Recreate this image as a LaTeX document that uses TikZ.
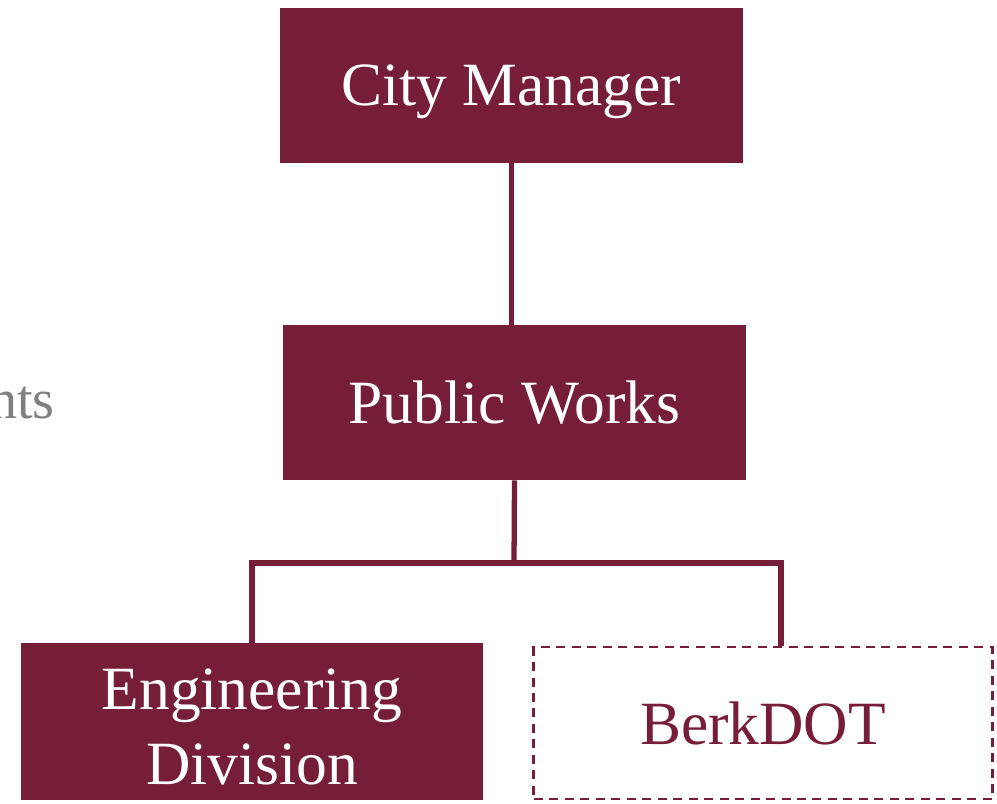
\documentclass[tikz,border=0pt]{standalone}
\usepackage{fontspec}
\setmainfont{Liberation Serif}
\usepackage{xcolor}
\usetikzlibrary{positioning}

\definecolor{maroon}{HTML}{761D37}
\definecolor{softgrey}{HTML}{808080}

\tikzset{
    orgbox/.style={fill=maroon, text=white, minimum width=9.26cm, minimum height=3.1cm,
        align=center, font=\fontsize{35}{42.5}\selectfont, inner sep=0pt, text depth=0pt},
    planbox/.style={draw=maroon, line width=1.6pt, dash pattern=on 0.18cm off 0.13cm,
        text=maroon, minimum width=9.18cm, minimum height=3.04cm,
        font=\fontsize{35}{42.5}\selectfont, inner sep=0pt, text depth=0pt},
    link/.style={draw=maroon, line width=3pt}
}

\begin{document}
\begin{tikzpicture}[x=0.02cm, y=-0.02cm]
    \useasboundingbox (0,0) rectangle (997,804);

    % boxes
    \node[orgbox] (city) at (511.5,85.5) {City Manager};
    \node[orgbox] (works) at (514.5,402.5) {Public Works};
    \node[orgbox, minimum height=3.14cm] (eng) at (252,721.5) {};
    \node[align=center, text=white, font=\fontsize{35}{42.5}\selectfont, inner sep=0pt]
        (engtext) at (252,727) {Engineering\\Division};
    \node[planbox] (dot) at (763,723) {BerkDOT};

    % cut-off label on the left
    \node[anchor=base east, text=softgrey, font=\fontsize{32}{36}\selectfont, inner sep=0pt]
        (side) at (55,418) {nts};

    % connectors
    \coordinate (bar) at (514,563);
    \coordinate (dottop) at (781,646);
    \draw[link] (city.south) -- (city.south |- works.north);
    \draw[link] (works.south) -- (bar);
    \draw[link] (eng.north) |- (bar) -| (dottop);
\end{tikzpicture}
\end{document}
